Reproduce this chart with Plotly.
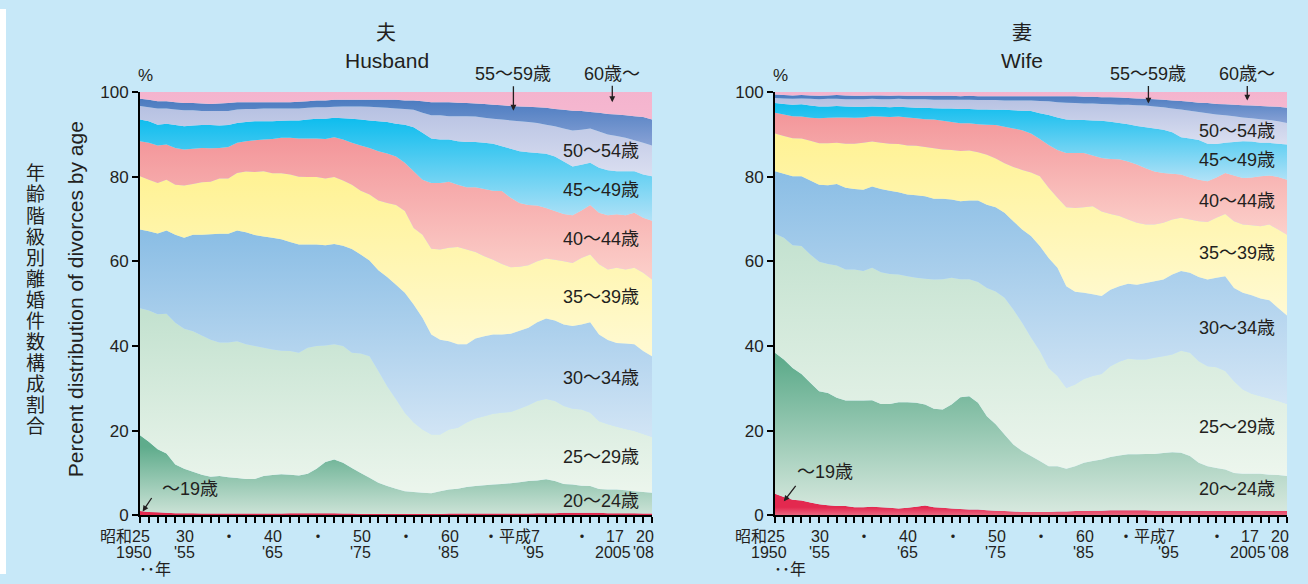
import plotly.graph_objects as go

W, H = 1308, 584
years = list(range(1950, 2009))

# ---- Husband: cumulative % of divorces up to the upper bound of each age class ----
h_upto19 = [1.0, 0.8, 0.7, 0.6, 0.5, 0.5, 0.5, 0.4, 0.4, 0.4, 0.4, 0.4, 0.4, 0.4, 0.4, 0.4, 0.4, 0.5, 0.5, 0.5,
            0.5, 0.5, 0.5, 0.4, 0.4, 0.3, 0.3, 0.3, 0.3, 0.3, 0.3, 0.3, 0.3, 0.3, 0.3, 0.4, 0.4, 0.4, 0.4, 0.4,
            0.4, 0.4, 0.4, 0.4, 0.4, 0.5, 0.5, 0.5, 0.6, 0.6, 0.6, 0.6, 0.6, 0.5, 0.5, 0.5, 0.5, 0.4, 0.4]
h_upto24 = [18.9, 17.4, 15.6, 14.6, 12.0, 11.0, 10.3, 9.6, 9.1, 9.3, 9.0, 8.8, 8.6, 8.6, 9.3, 9.5, 9.7, 9.6, 9.4, 9.8,
            11.0, 12.6, 13.2, 12.4, 11.2, 10.0, 8.9, 7.7, 6.9, 6.3, 5.7, 5.5, 5.3, 5.2, 5.7, 6.1, 6.3, 6.7, 6.9, 7.1,
            7.3, 7.4, 7.6, 7.8, 8.1, 8.2, 8.5, 8.1, 7.4, 7.3, 7.0, 6.9, 6.2, 6.1, 6.1, 5.9, 5.7, 5.5, 5.3]
h_upto29 = [48.9, 48.4, 47.5, 47.6, 45.5, 44.1, 43.5, 42.5, 41.5, 40.8, 40.8, 41.1, 40.4, 40.0, 39.6, 39.2, 38.9, 38.8, 38.4, 39.6,
            40.0, 40.1, 40.4, 40.0, 38.4, 38.2, 37.6, 34.1, 30.5, 27.4, 24.2, 21.9, 20.3, 19.1, 19.1, 20.3, 20.7, 21.9, 22.9, 23.4,
            24.0, 24.2, 24.4, 25.2, 26.0, 27.0, 27.5, 27.0, 25.8, 25.2, 25.0, 24.2, 22.2, 21.5, 20.9, 20.4, 19.9, 19.2, 18.5]
h_upto34 = [67.5, 67.1, 66.6, 67.3, 66.3, 65.6, 66.3, 66.3, 66.4, 66.5, 66.5, 67.3, 66.9, 66.2, 65.9, 65.6, 65.2, 64.6, 64.0, 64.0,
            64.0, 63.8, 64.1, 63.7, 62.9, 61.6, 60.2, 57.9, 56.3, 54.5, 52.6, 49.8, 46.7, 42.7, 41.5, 41.1, 40.4, 40.4, 41.8, 42.3,
            42.7, 42.7, 42.9, 43.6, 44.3, 45.6, 46.5, 46.0, 45.1, 44.7, 45.1, 45.6, 42.7, 41.4, 40.7, 40.6, 40.4, 38.8, 37.6]
h_upto39 = [80.1, 79.3, 78.5, 79.3, 78.1, 77.9, 78.3, 78.7, 78.8, 79.6, 79.6, 80.9, 81.2, 81.1, 81.3, 80.8, 80.8, 80.5, 80.0, 79.9,
            79.9, 79.6, 79.9, 79.1, 78.1, 76.7, 75.8, 74.4, 73.8, 73.3, 71.9, 67.9, 66.3, 63.0, 62.8, 63.2, 63.4, 62.8, 62.2, 61.2,
            60.4, 59.4, 58.6, 58.7, 59.1, 60.0, 60.7, 60.4, 60.0, 59.6, 60.8, 61.6, 59.3, 58.1, 58.5, 58.1, 58.5, 57.3, 55.7]
h_upto44 = [88.4, 88.0, 87.4, 87.6, 86.8, 86.4, 86.6, 86.8, 86.7, 86.8, 87.0, 88.0, 88.4, 88.6, 88.8, 88.9, 89.2, 89.2, 89.0, 89.0,
            89.0, 88.9, 89.3, 88.8, 88.0, 87.4, 86.8, 86.0, 85.5, 84.8, 83.3, 81.3, 79.3, 78.5, 78.5, 78.8, 78.1, 77.5, 77.5, 77.1,
            76.7, 76.6, 75.0, 73.8, 73.3, 73.2, 72.6, 71.9, 71.2, 70.9, 72.0, 73.3, 71.5, 70.9, 71.1, 70.9, 71.5, 70.3, 69.6]
h_upto49 = [93.5, 93.1, 92.3, 92.5, 92.2, 91.9, 92.1, 92.2, 92.2, 92.1, 92.2, 92.7, 92.9, 93.1, 93.1, 93.1, 93.2, 93.3, 93.3, 93.5,
            93.7, 93.7, 93.9, 93.8, 93.7, 93.5, 93.3, 93.1, 92.9, 92.5, 92.3, 91.7, 90.4, 89.0, 88.8, 88.8, 88.4, 88.2, 88.2, 88.0,
            87.8, 87.2, 86.6, 86.0, 85.8, 85.6, 85.4, 84.8, 83.6, 82.4, 82.8, 83.3, 82.1, 81.5, 81.3, 81.3, 81.3, 80.5, 80.1]
h_upto54 = [96.7, 96.4, 96.1, 96.1, 95.9, 95.7, 95.7, 95.5, 95.5, 95.5, 95.5, 95.9, 96.0, 96.0, 96.1, 96.1, 96.1, 96.1, 96.1, 96.3,
            96.4, 96.4, 96.5, 96.6, 96.6, 96.6, 96.5, 96.4, 96.3, 96.1, 96.0, 95.8, 95.1, 94.5, 94.5, 94.3, 94.3, 94.3, 94.2, 93.9,
            93.7, 93.5, 93.3, 93.1, 92.9, 92.7, 92.3, 91.9, 91.4, 90.9, 91.1, 91.4, 90.7, 90.0, 89.6, 89.2, 88.6, 88.0, 87.4]
h_upto59 = [98.4, 98.2, 97.8, 97.8, 97.6, 97.4, 97.4, 97.3, 97.2, 97.3, 97.4, 97.6, 97.6, 97.6, 97.6, 97.6, 97.6, 97.6, 97.7, 97.8,
            98.0, 98.0, 98.2, 98.2, 98.2, 98.2, 98.2, 98.2, 98.2, 98.2, 98.0, 98.0, 97.8, 97.6, 97.6, 97.6, 97.5, 97.4, 97.3, 97.2,
            97.0, 96.9, 96.7, 96.6, 96.5, 96.4, 96.3, 96.0, 95.8, 95.6, 95.5, 95.3, 95.1, 94.8, 94.7, 94.5, 94.3, 94.1, 93.5]

# ---- Wife ----
w_upto19 = [5.1, 4.3, 3.7, 3.5, 3.0, 2.6, 2.4, 2.2, 2.2, 1.9, 1.9, 2.0, 1.9, 1.8, 1.6, 1.8, 2.0, 2.3, 1.9, 1.8,
            1.6, 1.5, 1.4, 1.4, 1.2, 1.1, 1.0, 0.9, 0.8, 0.8, 0.8, 0.8, 0.9, 0.9, 1.0, 1.0, 1.1, 1.1, 1.2, 1.2,
            1.2, 1.2, 1.2, 1.1, 1.1, 1.1, 1.0, 1.0, 1.0, 1.0, 1.0, 1.0, 1.0, 1.0, 1.1, 1.0, 1.0, 1.0, 1.0]
w_upto24 = [38.4, 36.8, 34.8, 33.4, 31.3, 29.3, 28.9, 27.8, 27.1, 27.1, 27.1, 27.2, 26.3, 26.3, 26.7, 26.7, 26.6, 26.2, 25.2, 25.0,
            26.2, 27.9, 28.1, 26.6, 23.4, 21.5, 19.1, 16.7, 15.2, 14.0, 12.8, 11.6, 11.6, 11.0, 11.6, 12.4, 12.8, 13.2, 13.8, 14.1,
            14.4, 14.4, 14.5, 14.5, 14.7, 14.9, 14.8, 14.0, 12.4, 11.6, 11.2, 10.8, 10.0, 9.8, 9.8, 9.8, 9.6, 9.5, 9.3]
w_upto29 = [66.5, 65.6, 63.8, 63.6, 61.6, 59.9, 59.4, 59.0, 58.1, 58.1, 57.7, 58.5, 57.4, 57.0, 56.9, 56.5, 56.1, 55.9, 55.7, 55.8,
            56.1, 55.8, 55.8, 55.1, 53.7, 52.9, 51.4, 48.6, 45.5, 42.0, 38.8, 34.8, 32.9, 30.1, 30.9, 32.2, 32.9, 33.4, 35.2, 36.3,
            37.0, 36.8, 36.8, 37.2, 37.6, 38.0, 38.9, 38.4, 36.4, 35.2, 35.0, 34.1, 31.7, 29.7, 28.7, 28.1, 27.6, 27.0, 26.3]
w_upto34 = [81.3, 80.7, 80.1, 80.1, 79.1, 78.1, 78.0, 78.3, 77.4, 77.1, 76.9, 77.7, 77.1, 76.7, 76.3, 75.8, 75.6, 75.4, 74.8, 74.8,
            74.6, 74.2, 74.4, 74.4, 73.4, 72.8, 71.5, 69.5, 67.5, 66.0, 63.6, 60.8, 58.5, 54.1, 52.8, 52.6, 52.2, 51.8, 53.3, 54.1,
            54.7, 54.5, 54.9, 55.3, 55.7, 56.9, 57.7, 57.3, 56.3, 55.7, 56.1, 56.5, 53.7, 52.6, 52.0, 51.2, 50.8, 49.0, 47.2]
w_upto39 = [90.2, 89.6, 89.1, 89.0, 88.5, 87.9, 87.9, 88.0, 87.8, 87.8, 88.0, 88.3, 88.0, 87.8, 87.7, 87.4, 87.3, 87.0, 86.7, 86.4,
            86.3, 86.1, 86.2, 85.8, 85.2, 84.3, 83.2, 82.3, 81.6, 81.0, 80.1, 77.4, 75.0, 72.8, 72.6, 72.8, 73.0, 71.8, 71.2, 70.7,
            69.9, 69.1, 68.7, 68.7, 69.1, 69.9, 70.3, 69.9, 69.5, 69.3, 70.3, 71.2, 69.5, 68.7, 68.5, 68.3, 68.7, 67.5, 66.3]
w_upto44 = [95.1, 94.7, 94.3, 94.2, 93.9, 93.8, 93.9, 94.0, 94.0, 93.9, 94.0, 94.3, 94.2, 94.1, 94.2, 94.0, 93.8, 93.6, 93.5, 93.2,
            92.9, 92.6, 92.6, 92.4, 92.3, 92.2, 91.8, 91.4, 91.0, 90.2, 88.9, 87.5, 86.3, 85.6, 85.6, 85.6, 85.0, 84.4, 84.2, 84.1,
            83.6, 82.9, 82.0, 81.2, 80.9, 80.7, 80.5, 79.8, 79.3, 78.9, 79.8, 80.9, 80.3, 79.7, 79.8, 80.1, 80.3, 79.9, 79.3]
w_upto49 = [97.4, 97.2, 97.0, 97.1, 96.8, 96.6, 96.6, 96.7, 96.6, 96.5, 96.5, 96.6, 96.5, 96.4, 96.5, 96.4, 96.3, 96.3, 96.2, 96.1,
            96.1, 96.0, 96.0, 95.9, 95.9, 95.8, 95.8, 95.7, 95.6, 95.5, 95.0, 94.6, 94.0, 93.5, 93.4, 93.4, 93.3, 93.2, 93.0, 92.7,
            92.4, 92.0, 91.7, 91.4, 91.1, 90.5, 89.3, 89.0, 88.7, 87.8, 87.7, 88.0, 88.2, 88.4, 88.3, 88.0, 88.0, 87.8, 87.6]
w_upto54 = [98.6, 98.5, 98.4, 98.5, 98.4, 98.3, 98.4, 98.4, 98.3, 98.3, 98.3, 98.4, 98.3, 98.3, 98.4, 98.3, 98.3, 98.3, 98.2, 98.2,
            98.2, 98.2, 98.2, 98.1, 98.1, 98.1, 98.0, 98.0, 98.0, 98.0, 97.9, 97.8, 97.6, 97.5, 97.4, 97.3, 97.3, 97.2, 97.1, 97.0,
            97.0, 96.9, 96.8, 96.6, 96.4, 96.1, 95.9, 95.6, 95.3, 95.0, 94.7, 94.5, 94.3, 94.0, 93.8, 93.6, 93.4, 93.1, 92.7]
w_upto59 = [99.4, 99.3, 99.2, 99.3, 99.2, 99.1, 99.2, 99.3, 99.2, 99.1, 99.1, 99.2, 99.2, 99.1, 99.2, 99.1, 99.1, 99.1, 99.1, 99.1,
            99.1, 99.0, 99.1, 99.0, 99.0, 99.0, 99.0, 99.0, 99.0, 99.0, 99.0, 99.0, 99.0, 99.0, 99.0, 98.9, 98.9, 98.8, 98.8, 98.7,
            98.6, 98.5, 98.4, 98.3, 98.2, 98.0, 97.9, 97.7, 97.5, 97.4, 97.2, 97.1, 97.0, 96.9, 96.8, 96.7, 96.6, 96.5, 96.3]

total = [100.0] * len(years)

age_classes = ["〜19歳", "20〜24歳", "25〜29歳", "30〜34歳", "35〜39歳",
               "40〜44歳", "45〜49歳", "50〜54歳", "55〜59歳", "60歳〜"]

# x-axis tick labels
tick_years = [1950, 1955, 1960, 1965, 1970, 1975, 1980, 1985, 1990, 1995, 2000, 2005, 2008]
tick_row1 = ["昭和25", "30", "・", "40", "・", "50", "・", "60", "", "・平成7", "・", "17", "20"]
tick_row2 = ["1950", "'55", "", "'65", "", "'75", "", "'85", "", "'95", "", "2005", "'08"]

# gradient colours per band (bottom colour, top colour)
band_colors = [
    ("#FAD3D9", "#E3294F"),   # ~19
    ("#E2EEE6", "#5FAC8C"),   # 20-24
    ("#EFF7EF", "#C4E2D0"),   # 25-29
    ("#D6E7F6", "#8BBEE5"),   # 30-34
    ("#FFFAD6", "#FFF294"),   # 35-39
    ("#FCD3CD", "#F3969A"),   # 40-44
    ("#B8E3F7", "#0FBDEE"),   # 45-49
    ("#DCE0F1", "#B6C1E2"),   # 50-54
    ("#8AA3D6", "#4A7BC0"),   # 55-59
    ("#F6B8D0", "#F4B4CE"),   # 60+
]

BG = "#C7E8F8"
FONT = "Liberation Sans, Arial, Noto Sans CJK JP, sans-serif"
TXT = "#231F20"

# the page shows the figure with a small top offset and a slightly reduced height;
# these two numbers map wanted screen rows to paper fractions
OFF, EFF_H = 8.8, 566.0


def px(x):
    return x / W


def py(y):
    return 1 - (y - OFF) / EFF_H


fig = go.Figure()

panels = [
    ("x", "y", [h_upto19, h_upto24, h_upto29, h_upto34, h_upto39, h_upto44, h_upto49, h_upto54, h_upto59]),
    ("x2", "y2", [w_upto19, w_upto24, w_upto29, w_upto34, w_upto39, w_upto44, w_upto49, w_upto54, w_upto59]),
]

for xa, ya, cums in panels:
    bounds = [[0.0] * len(years)] + cums + [total]
    for k in range(1, len(bounds)):
        lo, hi = bounds[k - 1], bounds[k]
        c0, c1 = band_colors[k - 1]
        g_start = min(lo) if min(lo) > 0 else -0.01
        fig.add_trace(go.Scatter(
            x=years, y=hi, mode="none", fill="tozeroy" if k == 1 else "tonexty",
            xaxis=xa, yaxis=ya, name=age_classes[k - 1], showlegend=False,
            fillgradient=dict(type="vertical", colorscale=[[0, c0], [1, c1]],
                              start=g_start, stop=max(hi)),
        ))

ydom = [py(516), py(92)]
axis_common = dict(showline=True, linecolor="black", linewidth=2, ticks="outside",
                   tickcolor="black", tickwidth=1.5, ticklen=6, showgrid=False, zeroline=False)

fig.update_layout(
    width=W, height=H,
    autosize=False,
    margin=dict(l=0, r=0, t=0, b=0),
    paper_bgcolor=BG,
    plot_bgcolor=BG,
    font=dict(family=FONT, color=TXT, size=16),
    showlegend=False,
    xaxis=dict(domain=[px(140), px(652)], range=[1950, 2008], tickvals=years,
               showticklabels=False, anchor="y", **axis_common),
    yaxis=dict(domain=ydom, range=[0, 100], tickvals=[0, 20, 40, 60, 80, 100],
               tickfont=dict(size=17, color=TXT), anchor="x", **axis_common),
    xaxis2=dict(domain=[px(775), px(1287)], range=[1950, 2008], tickvals=years,
                showticklabels=False, anchor="y2", **axis_common),
    yaxis2=dict(domain=ydom, range=[0, 100], tickvals=[0, 20, 40, 60, 80, 100],
                tickfont=dict(size=17, color=TXT), anchor="x2", **axis_common),
    shapes=[dict(type="rect", xref="paper", yref="paper", x0=0, x1=px(6), y0=0, y1=1,
                 fillcolor="white", line=dict(width=0), layer="below")],
)

ann = []


def text(x, y, s, size=16, xanchor="center", xref="paper", yref="paper", **kw):
    ann.append(dict(x=x, y=y, xref=xref, yref=yref, text=s, showarrow=False,
                    xanchor=xanchor, yanchor="middle", font=dict(size=size, color=TXT, family=FONT), **kw))


# titles
text(px(386), py(33), "夫", size=20)
text(px(387), py(60), "Husband", size=21)
text(px(1022), py(33), "妻", size=20)
text(px(1022), py(60), "Wife", size=21)

# % marks
text(px(145), py(75), "%", size=17)
text(px(780), py(75), "%", size=17)

# y-axis titles
jp_title = "年齢階級別離婚件数構成割合"
for i, ch in enumerate(jp_title):
    text(px(35), py(174 + i * 21.1), ch, size=19)
ann.append(dict(x=px(62), y=py(300), xref="paper", yref="paper", text="Percent distribution of divorces by age",
                showarrow=False, textangle=-90, font=dict(size=21, color=TXT, family=FONT)))

# x tick labels
for xr in ["x", "x2"]:
    for yr, r1, r2 in zip(tick_years, tick_row1, tick_row2):
        if yr == 1950:
            a1, s1, a2, s2 = "right", 12, "right", 14
        elif yr == 1995:
            a1, s1, a2, s2 = "right", 5, "center", -4
        elif yr == 2005:
            a1, s1, a2, s2 = "right", 0, "right", 7
        elif yr == 2008:
            a1, s1, a2, s2 = "right", 4, "right", 4
        else:
            a1, s1, a2, s2 = "center", 1, "center", 0
        if r1:
            ann.append(dict(x=yr, y=py(537), xref=xr, yref="paper", text=r1, showarrow=False,
                            xanchor=a1, xshift=s1, yanchor="middle", font=dict(size=16, color=TXT, family=FONT)))
        if r2:
            ann.append(dict(x=yr, y=py(553), xref=xr, yref="paper", text=r2, showarrow=False,
                            xanchor=a2, xshift=s2, yanchor="middle", font=dict(size=16, color=TXT, family=FONT)))
    ann.append(dict(x=1950, y=py(570), xref=xr, yref="paper", text="･･年", showarrow=False,
                    xanchor="center", xshift=15, yanchor="middle", font=dict(size=16, color=TXT, family=FONT)))

# band labels (right aligned)
left_labels = [("50〜54歳", 151), ("45〜49歳", 190), ("40〜44歳", 239), ("35〜39歳", 297),
               ("30〜34歳", 378), ("25〜29歳", 458), ("20〜24歳", 502)]
right_labels = [("50〜54歳", 131), ("45〜49歳", 160), ("40〜44歳", 201), ("35〜39歳", 253),
                ("30〜34歳", 328), ("25〜29歳", 428), ("20〜24歳", 490)]
for s, y in left_labels:
    text(px(641), py(y), s, size=18, xanchor="right")
for s, y in right_labels:
    text(px(1277), py(y), s, size=18, xanchor="right")

# labels with arrows above the plots
for xr in ["x", "x2"]:
    text(1992.3, py(74), "55〜59歳", size=18, xref=xr)
    text(2003.5, py(74), "60歳〜", size=18, xref=xr)

arrow = dict(showarrow=True, arrowhead=2, arrowsize=0.9, arrowwidth=1.3, arrowcolor=TXT, text="", axref="pixel", ayref="pixel")
ann.append(dict(x=1992.3, y=95.6, xref="x", yref="y", ax=0, ay=-26, **arrow))
ann.append(dict(x=2003.5, y=97.6, xref="x", yref="y", ax=0, ay=-18, **arrow))
ann.append(dict(x=1992.3, y=97.3, xref="x2", yref="y2", ax=0, ay=-19, **arrow))
ann.append(dict(x=2003.5, y=98.0, xref="x2", yref="y2", ax=0, ay=-16, **arrow))

# ~19 labels
text(1952.3, py(490), "〜19歳", size=18, xanchor="left", xref="x")
ann.append(dict(x=1950.3, y=0.9, xref="x", yref="y", ax=10, ay=-15, **arrow))
text(1952.3, py(473), "〜19歳", size=18, xanchor="left", xref="x2")
ann.append(dict(x=1951.0, y=3.3, xref="x2", yref="y2", ax=13, ay=-17, **arrow))

fig.update_layout(annotations=ann)
fig.write_html(
    "out.html",
    config={"responsive": False, "displayModeBar": False},
    post_script="document.body.style.margin='0';document.body.style.overflow='hidden';",
)
